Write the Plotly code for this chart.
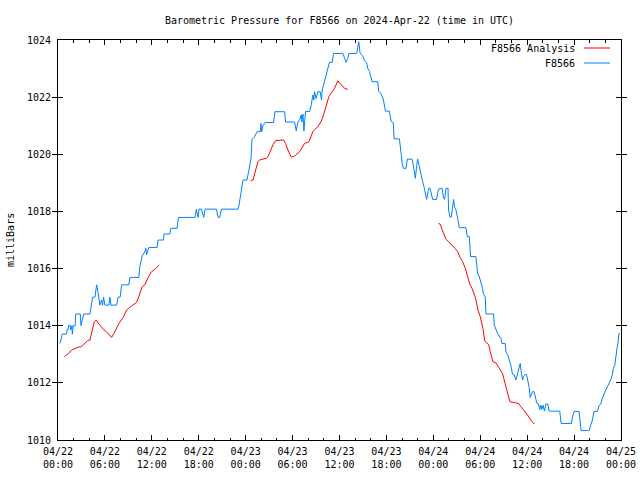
import plotly.graph_objects as go

# ---- data (hours since 2024-04-22 00:00 UTC, pressure in mb) ----
station_hours = [
    0.26, 0.55, 1.11, 1.15, 1.31, 1.35, 1.57, 1.6, 1.75, 1.78, 1.83, 1.95, 2.2, 2.26, 2.85, 2.94,
    3.1, 3.28, 4.09, 4.21, 4.43, 4.72, 4.81, 4.94, 5.07, 5.2, 5.36, 5.58, 5.7, 5.83, 6.0, 6.51,
    6.64, 6.77, 7.49, 7.7, 7.95, 8.13, 9.06, 9.19, 10.34, 10.47, 10.6, 10.76, 11.11, 11.23, 11.32,
    11.53, 11.62, 12.68, 12.8, 13.5, 13.55, 14.3, 14.43, 15.23, 15.4, 17.53, 17.7, 17.91, 18.04,
    18.34, 18.47, 18.64, 18.81, 20.26, 20.47, 20.68, 20.9, 23.02, 23.15, 23.32, 23.49, 23.66,
    24.17, 24.34, 24.51, 24.68, 24.81, 25.15, 25.45, 25.87, 25.96, 26.04, 26.21, 26.47, 27.57,
    27.74, 28.98, 29.1, 30.26, 30.47, 30.68, 30.9, 31.11, 31.2, 31.32, 31.45, 31.66, 32.17, 32.39,
    32.59, 32.72, 32.81, 33.02, 33.23, 33.53, 33.7, 33.79, 33.96, 34.12, 34.3, 34.51, 34.72, 35.07,
    35.23, 36.42, 36.64, 36.86, 37.06, 37.19, 38.21, 38.34, 38.46, 38.64, 38.98, 39.19, 39.49,
    39.62, 39.83, 39.92, 40.17, 40.89, 41.02, 41.32, 41.62, 41.87, 42.38, 42.6, 42.89, 42.98,
    43.66, 43.88, 44.0, 44.17, 44.51, 44.68, 45.28, 45.45, 45.57, 45.7, 45.87, 45.99, 46.12, 46.3,
    46.47, 46.63, 46.81, 46.98, 47.14, 47.32, 47.4, 47.58, 47.74, 47.91, 48.42, 48.6, 48.77, 49.11,
    49.28, 49.44, 49.62, 49.88, 49.95, 50.13, 50.3, 50.47, 50.59, 50.72, 50.9, 51.06, 51.23, 51.32,
    52.17, 52.34, 52.6, 52.69, 52.76, 53.45, 53.53, 53.66, 53.87, 54.13, 54.3, 54.38, 54.64, 54.73,
    55.7, 55.79, 56.0, 56.21, 56.64, 56.77, 57.19, 57.28, 57.49, 57.7, 57.92, 58.12, 58.34, 58.56,
    58.76, 58.98, 59.11, 59.27, 59.4, 59.53, 59.74, 59.91, 60.09, 60.26, 60.38, 60.51, 60.68, 60.89,
    61.11, 61.24, 61.44, 61.62, 61.75, 61.88, 62.04, 62.21, 62.39, 62.64, 62.81, 64.17, 64.34,
    65.66, 65.79, 66.0, 66.64, 66.89, 67.91, 68.13, 68.34, 68.55, 68.98, 69.19, 69.41, 69.61,
    69.83, 70.05, 70.25, 70.47, 70.68, 70.89, 71.02, 71.2, 71.32, 71.49, 71.62, 71.74, 71.87,
]
station_mb = [
    1013.38, 1013.71, 1013.71, 1013.87, 1013.87, 1014.01, 1014.01, 1013.87, 1013.87, 1014.0, 1013.7,
    1014.0, 1014.0, 1014.41, 1014.41, 1014.0, 1014.2, 1014.41, 1014.41, 1014.67, 1015.0, 1015.0,
    1015.25, 1015.43, 1015.25, 1015.0, 1014.72, 1014.9, 1014.72, 1015.0, 1014.72, 1014.72, 1015.0,
    1014.72, 1014.72, 1015.0, 1015.0, 1015.43, 1015.43, 1015.69, 1015.69, 1016.07, 1016.3, 1016.44,
    1016.59, 1016.71, 1016.48, 1016.71, 1016.74, 1016.74, 1017.0, 1017.0, 1017.21, 1017.21, 1017.41,
    1017.41, 1017.79, 1017.79, 1018.08, 1017.79, 1018.08, 1018.08, 1017.93, 1017.79, 1018.08,
    1018.08, 1017.79, 1017.79, 1018.08, 1018.08, 1018.22, 1018.54, 1018.87, 1019.1, 1019.1, 1019.39,
    1019.68, 1019.83, 1020.52, 1020.62, 1020.79, 1020.79, 1021.08, 1020.79, 1021.0, 1021.11,
    1021.11, 1021.49, 1021.49, 1021.13, 1021.13, 1020.82, 1021.13, 1021.2, 1021.38, 1021.13,
    1021.41, 1020.82, 1021.5, 1021.5, 1021.73, 1022.08, 1021.9, 1022.19, 1021.95, 1022.19, 1022.19,
    1021.9, 1022.25, 1022.43, 1022.66, 1022.83, 1023.0, 1023.22, 1023.22, 1023.53, 1023.53,
    1023.36, 1023.22, 1023.36, 1023.53, 1023.53, 1023.71, 1023.94, 1023.53, 1023.45, 1023.27,
    1023.2, 1023.0, 1022.9, 1022.8, 1022.54, 1022.54, 1022.19, 1022.12, 1021.9, 1021.51, 1021.51,
    1021.15, 1021.1, 1020.54, 1020.54, 1020.03, 1019.69, 1019.51, 1019.51, 1019.83, 1019.83,
    1019.6, 1019.33, 1019.16, 1019.6, 1019.83, 1019.69, 1019.45, 1019.16, 1019.04, 1018.86,
    1018.63, 1018.42, 1018.7, 1018.81, 1018.81, 1018.6, 1018.42, 1018.42, 1018.7, 1018.81, 1018.81,
    1018.5, 1018.42, 1018.81, 1018.81, 1018.05, 1017.8, 1017.8, 1018.15, 1018.42, 1018.15, 1018.05,
    1017.83, 1017.58, 1017.43, 1017.43, 1017.12, 1017.12, 1016.77, 1016.42, 1016.42, 1016.2,
    1015.83, 1015.72, 1015.48, 1015.3, 1015.13, 1015.0, 1014.41, 1014.41, 1014.03, 1013.9, 1013.73,
    1013.55, 1013.38, 1013.38, 1013.09, 1013.0, 1012.8, 1012.6, 1012.31, 1012.28, 1012.1, 1012.31,
    1012.5, 1012.68, 1012.33, 1012.1, 1012.22, 1012.3, 1012.3, 1012.1, 1011.84, 1011.49, 1011.57,
    1011.69, 1011.69, 1011.4, 1011.28, 1011.26, 1011.07, 1011.22, 1011.07, 1011.22, 1011.01,
    1011.26, 1011.26, 1011.01, 1011.01, 1010.58, 1010.58, 1010.8, 1011.0, 1011.0, 1010.33, 1010.33,
    1010.52, 1010.7, 1011.0, 1011.0, 1011.2, 1011.26, 1011.46, 1011.63, 1011.75, 1011.86, 1011.98,
    1012.1, 1012.28, 1012.51, 1012.6, 1012.92, 1013.21, 1013.4, 1013.73, 1013.73,
]

analysis_hours = [
    0.81, 1.15, 1.75, 2.17, 2.6, 3.02, 3.45, 3.79, 4.09, 4.38, 4.64, 4.85, 5.15, 5.79, 6.21, 6.85,
    7.28, 7.79, 8.34, 8.77, 9.4, 10.04, 10.34, 10.77, 11.11, 11.53, 11.96, 12.38, 12.94,
    None,
    24.64, 24.94, 25.28, 25.57, 25.79, 26.64, 26.85, 27.15, 27.49, 27.83, 28.34, 28.85, 29.11,
    29.4, 29.83, 30.26, 30.9, 31.53, 32.09, 32.59, 33.23, 33.66, 33.96, 34.3, 34.64, 35.07, 35.36,
    35.79, 36.21, 36.64, 37.06,
    None,
    48.64, 48.89, 49.11, 49.32, 49.62, 49.96, 50.39, 50.77, 51.11, 51.41, 51.75, 52.09, 52.38,
    52.69, 52.94, 53.23, 53.4, 53.7, 54.0, 54.34, 54.55, 54.77, 55.1, 55.28, 55.62, 56.0, 56.43,
    56.85, 57.06, 57.36, 57.62, 57.79, 58.34, 58.89, 59.19, 59.62, 60.04, 60.47, 60.89,
]
analysis_mb = [
    1012.92, 1012.98, 1013.15, 1013.21, 1013.25, 1013.27, 1013.38, 1013.48, 1013.5, 1013.85,
    1014.14, 1014.2, 1014.08, 1013.87, 1013.79, 1013.59, 1013.79, 1014.08, 1014.29, 1014.55,
    1014.69, 1014.81, 1015.02, 1015.37, 1015.43, 1015.69, 1015.89, 1015.97, 1016.12,
    None,
    1019.08, 1019.1, 1019.45, 1019.74, 1019.8, 1019.86, 1019.91, 1020.13, 1020.33, 1020.48,
    1020.5, 1020.5, 1020.38, 1020.15, 1019.9, 1019.94, 1020.09, 1020.38, 1020.44, 1020.79,
    1020.97, 1021.15, 1021.38, 1021.67, 1022.02, 1022.19, 1022.31, 1022.57, 1022.45, 1022.31,
    1022.27,
    None,
    1017.58, 1017.55, 1017.37, 1017.23, 1017.02, 1016.94, 1016.83, 1016.71, 1016.59, 1016.39,
    1016.24, 1016.01, 1015.72, 1015.43, 1015.31, 1015.08, 1014.97, 1014.55, 1014.32, 1013.91,
    1013.5, 1013.41, 1013.33, 1013.09, 1012.74, 1012.7, 1012.5, 1012.33, 1012.1, 1011.75, 1011.52,
    1011.34, 1011.31, 1011.28, 1011.17, 1011.03, 1010.88, 1010.7, 1010.56,
]

x_tick_hours = [0, 6, 12, 18, 24, 30, 36, 42, 48, 54, 60, 66, 72]
x_tick_dates = ["04/22", "04/22", "04/22", "04/22", "04/23", "04/23", "04/23", "04/23",
                "04/24", "04/24", "04/24", "04/24", "04/25"]
x_tick_times = ["00:00", "06:00", "12:00", "18:00", "00:00", "06:00", "12:00", "18:00",
                "00:00", "06:00", "12:00", "18:00", "00:00"]
y_tick_values = [1010, 1012, 1014, 1016, 1018, 1020, 1022, 1024]

series_names = ["F8566 Analysis", "F8566"]
series_colors = ["#ff0000", "#0080ff"]

FONT = "DejaVu Sans Mono"
FS = 10

fig = go.Figure()
fig.add_trace(go.Scatter(x=analysis_hours, y=analysis_mb, mode="lines",
                         line=dict(color=series_colors[0], width=1),
                         connectgaps=False, name=series_names[0]))
fig.add_trace(go.Scatter(x=station_hours, y=station_mb, mode="lines",
                         line=dict(color=series_colors[1], width=1),
                         name=series_names[1]))
# helper (empty) trace so the second row of time labels is drawn
fig.add_trace(go.Scatter(x=x_tick_hours, y=[None] * len(x_tick_hours), mode="lines",
                         xaxis="x2", showlegend=False, hoverinfo="skip"))

fig.update_layout(
    width=640, height=480, autosize=False,
    margin=dict(l=58, r=19, t=40, b=40, pad=0),
    paper_bgcolor="white", plot_bgcolor="white",
    showlegend=False,
    font=dict(family=FONT, size=FS, color="black"),
    title=dict(text="Barometric Pressure for F8566 on 2024-Apr-22 (time in UTC)",
               x=0.5, xref="paper", xanchor="center",
               y=1 - 20.5 / 480, yref="container", yanchor="middle",
               font=dict(family=FONT, size=FS, color="black")),
    xaxis=dict(
        range=[0, 72], tickmode="array", tickvals=x_tick_hours, ticktext=x_tick_dates,
        ticks="inside", ticklen=5, tickwidth=1, tickcolor="black",
        showline=True, linecolor="black", linewidth=1, mirror="allticks",
        showgrid=False, zeroline=False, ticklabelstandoff=2, automargin=False,
        minor=dict(dtick=2, tick0=0, ticks="inside", ticklen=2.5, tickwidth=1,
                   tickcolor="black", showgrid=False),
    ),
    xaxis2=dict(
        range=[0, 72], overlaying="x", side="bottom", anchor="y",
        tickmode="array", tickvals=x_tick_hours, ticktext=x_tick_times,
        ticks="", showline=False, showgrid=False, zeroline=False,
        ticklabelstandoff=17, automargin=False,
    ),
    yaxis=dict(
        range=[1010, 1024], tickmode="array", tickvals=y_tick_values,
        ticks="inside", ticklen=5, tickwidth=1, tickcolor="black",
        showline=True, linecolor="black", linewidth=1, mirror="allticks",
        showgrid=False, zeroline=False, ticklabelstandoff=4, automargin=False,
    ),
)

# y-axis title
fig.add_annotation(text="milliBars", textangle=-90, xref="paper", yref="paper",
                   x=(10 - 58) / 563, y=0.5, xanchor="center", yanchor="middle",
                   showarrow=False, font=dict(family=FONT, size=FS, color="black"))

# legend (gnuplot style: text right, sample line to its right)
legend_rows_y = [(440 - 48) / 400, (440 - 63) / 400]
for name, color, yy in zip(series_names, series_colors, legend_rows_y):
    fig.add_annotation(text=name, xref="paper", yref="paper",
                       x=(577 - 58) / 563, y=yy, xanchor="right", yanchor="middle",
                       showarrow=False, font=dict(family=FONT, size=FS, color="black"))
    fig.add_shape(type="line", xref="paper", yref="paper",
                  x0=(584 - 58) / 563, x1=(610 - 58) / 563, y0=yy, y1=yy,
                  line=dict(color=color, width=1))

fig.write_html("out.html", config={"displayModeBar": False, "responsive": False},
               post_script="document.body.style.margin='0';")
